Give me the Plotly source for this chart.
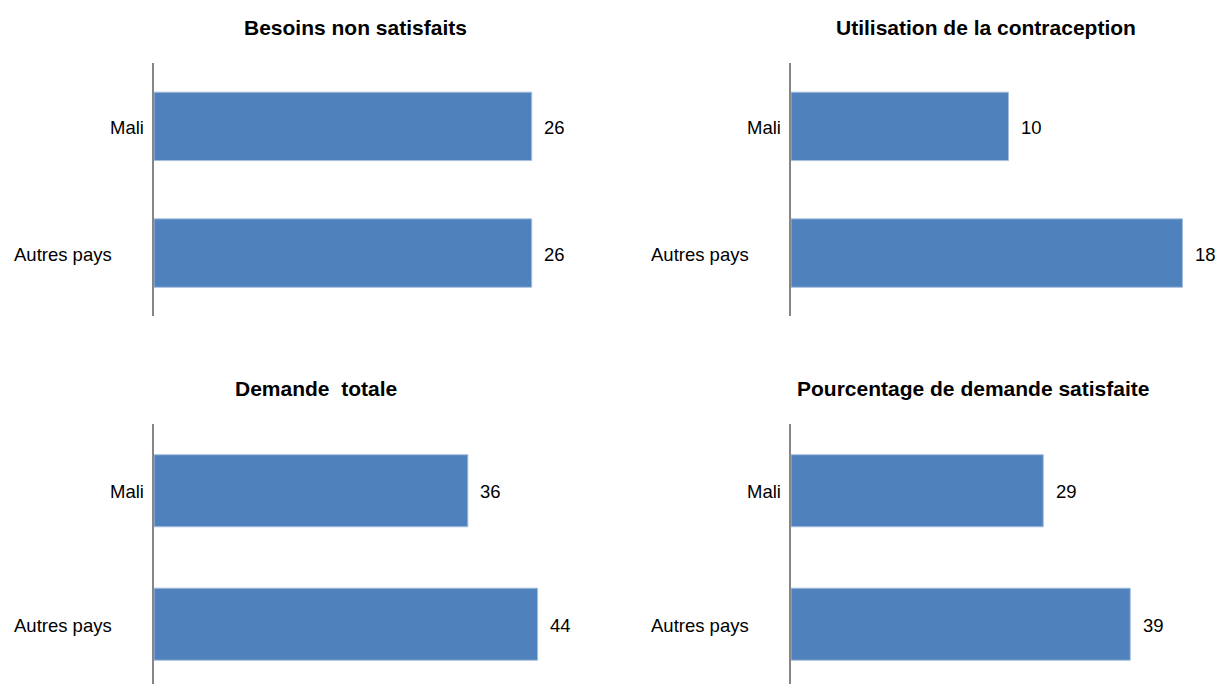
import plotly.graph_objects as go

W, H = 1219, 684

categories = ["Mali", "Autres pays"]
titles = ["Besoins non satisfaits", "Utilisation de la contraception",
          "Demande\u00a0 totale", "Pourcentage de demande satisfaite"]
besoins = [26, 26]
utilisation = [10, 18]
demande = [36, 44]
pourcentage = [29, 39]

series = [besoins, utilisation, demande, pourcentage]

BAR = "#4F81BD"
AXIS = "#868686"
FONT = "Arial, Liberation Sans, sans-serif"

# layout (pixels)
x_dom = [(154, 600), (791, 1219), (154, 600), (791, 1219)]
y_dom = [(0.5374, 0.9079), (0.5374, 0.9079), (0.0, 0.3801), (0.0, 0.3801)]
x_rng = [30.7, 19.68, 51.16, 49.2]
y_rng = [[1.5, -0.5], [1.5, -0.5], [1.448, -0.5], [1.448, -0.5]]
title_pos = [(356, 27), (986, 27), (316, 389), (973, 389)]
label_right = {"Mali": 8, "Autres pays": 40}

fig = go.Figure()
annotations = []
for i, vals in enumerate(series):
    xa = "x" if i == 0 else f"x{i+1}"
    ya = "y" if i == 0 else f"y{i+1}"
    fig.add_trace(go.Bar(
        x=vals, y=categories, orientation="h", xaxis=xa, yaxis=ya,
        marker=dict(color=BAR, line=dict(color="#A7BFDE", width=1)),
        width=0.54, showlegend=False, hoverinfo="x+y",
    ))
    suffix = "" if i == 0 else str(i + 1)
    fig.layout["xaxis" + suffix] = dict(
        domain=[x_dom[i][0] / W, x_dom[i][1] / W], range=[0, x_rng[i]],
        visible=False, anchor=ya, fixedrange=True)
    fig.layout["yaxis" + suffix] = dict(
        domain=list(y_dom[i]), range=y_rng[i], type="category",
        anchor=xa, showticklabels=False, ticks="", showgrid=False,
        zeroline=False, showline=True, linecolor=AXIS, linewidth=2,
        fixedrange=True)
    # values
    for c, v in zip(categories, vals):
        annotations.append(dict(
            x=v, y=c, xref=xa, yref=ya, text=str(v), showarrow=False,
            xanchor="left", yanchor="middle", xshift=10.5, yshift=-1,
            font=dict(family=FONT, size=18.5, color="#000000")))
    # category labels
    for c in categories:
        annotations.append(dict(
            x=(x_dom[i][0] - label_right[c]) / W, y=c, xref="paper",
            yref=ya, text=c, showarrow=False, xanchor="right",
            yanchor="middle", yshift=-1,
            font=dict(family=FONT, size=18.5, color="#000000")))
    # title
    tx, ty = title_pos[i]
    annotations.append(dict(
        x=tx / W, y=1 - ty / H, xref="paper", yref="paper",
        text="<b>" + titles[i] + "</b>", showarrow=False,
        xanchor="center", yanchor="middle",
        font=dict(family=FONT, size=21, color="#000000")))

fig.update_layout(
    width=W, height=H, margin=dict(l=0, r=0, t=0, b=0),
    paper_bgcolor="white", plot_bgcolor="white",
    annotations=annotations, bargap=0.46,
)

fig.write_html("out.html")
